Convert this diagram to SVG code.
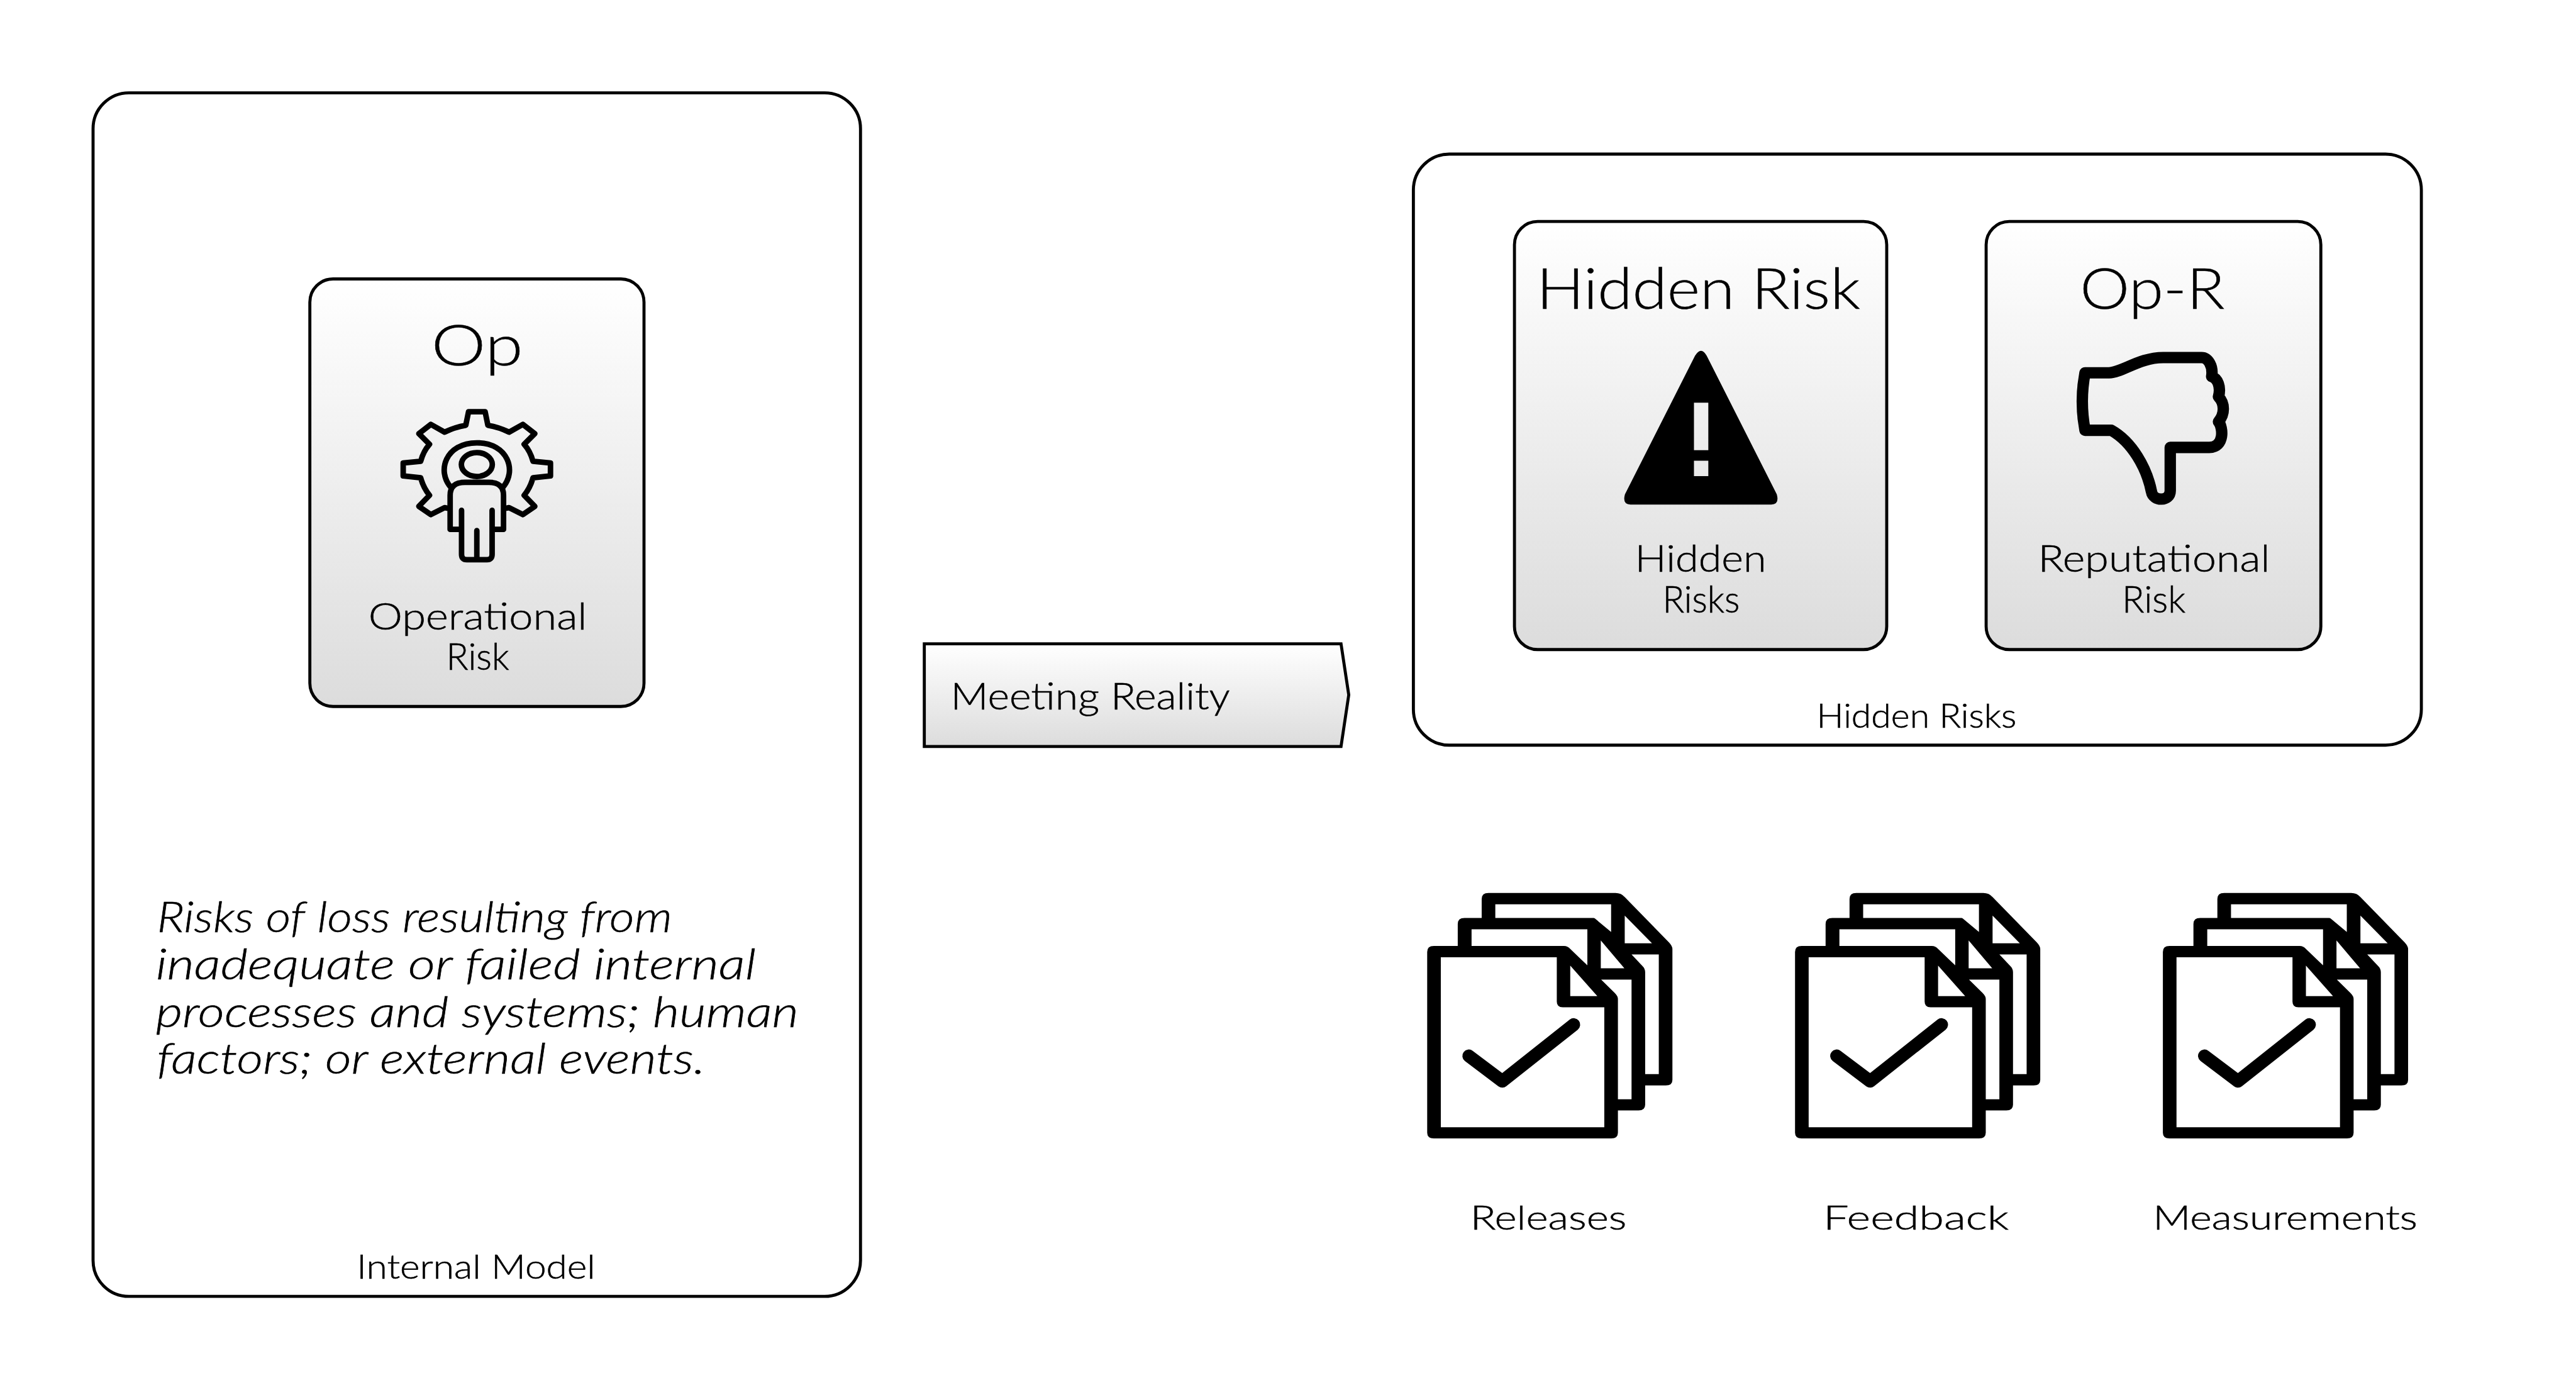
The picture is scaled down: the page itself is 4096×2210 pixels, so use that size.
<svg xmlns="http://www.w3.org/2000/svg" width="4096" height="2210" viewBox="0 0 4096 2210">
<style>
text{font-family:"Lato","Open Sans","Liberation Sans",sans-serif;font-weight:300;fill:#000;stroke:#000;stroke-width:.7}
.box{fill:#fff;stroke:#000;stroke-width:5.5}
.card{fill:url(#g);stroke:#000;stroke-width:5.5}
.t102{font-size:104px}
.t66{font-size:68px}
.t60{font-size:61px}
.t75{font-size:76px;font-style:italic}
.ic{fill:none;stroke:#000;stroke-linejoin:round;stroke-linecap:round}
</style>
<defs>
<linearGradient id="g" x1="0" y1="0" x2="0" y2="1"><stop offset="0" stop-color="#fff"/><stop offset="1" stop-color="#dcdcdc"/></linearGradient>
<g id="docs" transform="translate(2560,1600) scale(.33333)">
<path fill="#000" fill-rule="evenodd" d="M72 370Q72 338 108 338H238V218Q238 186 275 186H368V82Q368 50 405 50H1095Q1125 50 1145 72L1385 318Q1404 338 1404 355V1065Q1404 1095 1368 1095H1256V1200Q1256 1231 1220 1231H1108V1352Q1108 1383 1072 1383H108Q72 1383 72 1352ZM442 111H1071V262L985 190Q980 186 975 186H442ZM1145 173L1293 323H1145ZM1182 384H1330V1034H1256V480Q1256 460 1240 445ZM313 247H942V443L850 355Q835 338 815 338H313ZM1015 308L1143 459H1015ZM1017 520H1182V1170H1108V625Q1108 610 1090 592ZM146 399H776V640Q776 671 808 671H1034V1322H146ZM849 444L996 610H849Z"/>
<path class="ic" stroke-width="70" d="M298 935L480 1072L868 765"/>
</g>
</defs>
<g transform="scale(.87822)">
<g id="internal-model">
<rect class="box" x="168.5" y="168" width="1389.5" height="2179" rx="65"/>
<text class="t60" x="646" y="2315" textLength="432" lengthAdjust="spacingAndGlyphs">Internal Model</text>
<text class="t75" x="284" y="1688" textLength="933" lengthAdjust="spacingAndGlyphs">Risks of loss resulting from</text>
<text class="t75" x="282" y="1773" textLength="1087" lengthAdjust="spacingAndGlyphs">inadequate or failed internal</text>
<text class="t75" x="282" y="1859" textLength="1164" lengthAdjust="spacingAndGlyphs">processes and systems; human</text>
<text class="t75" x="284" y="1944" textLength="993" lengthAdjust="spacingAndGlyphs">factors; or external events.</text>
</g>
<g id="op-card">
<rect class="card" x="561" y="505" width="605" height="774" rx="42"/>
<text class="t102" x="781" y="662" textLength="166" lengthAdjust="spacingAndGlyphs">Op</text>
<g transform="translate(700,720) scale(.33333)" class="ic">
<path stroke-width="30" d="M330 600L315 597L240 635L175 590L233 530Q200 490 185 435L90 425V355L185 345Q200 290 233 253L175 195L240 145L315 187Q370 160 430 150L445 76H535L550 150Q610 160 665 187L740 145L805 195L747 253Q780 290 795 345L890 355V425L795 435Q780 490 747 530L805 590L740 635L665 597L650 600"/>
<path stroke-width="30" d="M350 488C270 400 320 245 490 245C660 245 710 400 630 488"/>
<ellipse stroke-width="30" cx="490" cy="363" rx="84" ry="65"/>
<path stroke-width="30" d="M407 715H345V530Q345 460 425 460H555Q635 460 635 530V715H573V850Q573 880 545 880H435Q407 880 407 850V612M573 612V715M490 722V880"/>
</g>
<text class="t66" x="667" y="1140" textLength="396" lengthAdjust="spacingAndGlyphs">Operational</text>
<text class="t66" x="808" y="1213" textLength="114" lengthAdjust="spacingAndGlyphs">Risk</text>
</g>
<g id="meeting-reality">
<path class="card" d="M1673.5 1165.5H2428L2442 1258L2428 1351.5H1673.5Z"/>
<text class="t66" x="1721" y="1284" textLength="506" lengthAdjust="spacingAndGlyphs">Meeting Reality</text>
</g>
<g id="hidden-risks">
<rect class="box" x="2559" y="279" width="1825" height="1070" rx="65"/>
<text class="t60" x="3289" y="1317" textLength="362" lengthAdjust="spacingAndGlyphs">Hidden Risks</text>
</g>
<g id="hidden-risk-card">
<rect class="card" x="2742" y="401" width="674" height="775" rx="42"/>
<text class="t102" x="2782" y="559" textLength="586" lengthAdjust="spacingAndGlyphs">Hidden Risk</text>
<path fill="#000" fill-rule="evenodd" d="M3069 644Q3080 626 3090 644L3217 895Q3222 913.5 3207 913.5H2952Q2937 913.5 2942 895ZM3067 729V815H3093V729ZM3067 834V862H3093V834Z"/>
<text class="t66" x="2960" y="1035" textLength="238" lengthAdjust="spacingAndGlyphs">Hidden</text>
<text class="t66" x="3010" y="1109" textLength="140" lengthAdjust="spacingAndGlyphs">Risks</text>
</g>
<g id="op-r-card">
<rect class="card" x="3596" y="401" width="606" height="775" rx="42"/>
<text class="t102" x="3766" y="559" textLength="262" lengthAdjust="spacingAndGlyphs">Op-R</text>
<path class="ic" style="stroke-width:62" transform="translate(3700,600) scale(.33333)" d="M225 225H355C430 222 520 142 650 142H858C895 142 922 190 913 245C945 255 965 300 950 355C985 390 985 450 950 490C975 520 985 630 900 630H688V865C688 925 595 925 586 870C560 740 480 600 368 537H225C205 430 205 330 225 225Z"/>
<text class="t66" x="3690" y="1035" textLength="420" lengthAdjust="spacingAndGlyphs">Reputational</text>
<text class="t66" x="3842" y="1109" textLength="115" lengthAdjust="spacingAndGlyphs">Risk</text>
</g>
<g id="releases">
<use href="#docs"/>
<text class="t60" x="2662" y="2226" textLength="283" lengthAdjust="spacingAndGlyphs">Releases</text>
</g>
<g id="feedback">
<use href="#docs" x="666"/>
<text class="t60" x="3301" y="2226" textLength="336" lengthAdjust="spacingAndGlyphs">Feedback</text>
</g>
<g id="measurements">
<use href="#docs" x="1332"/>
<text class="t60" x="3898" y="2226" textLength="479" lengthAdjust="spacingAndGlyphs">Measurements</text>
</g>
<g id="connectors"/>
</g>
</svg>
